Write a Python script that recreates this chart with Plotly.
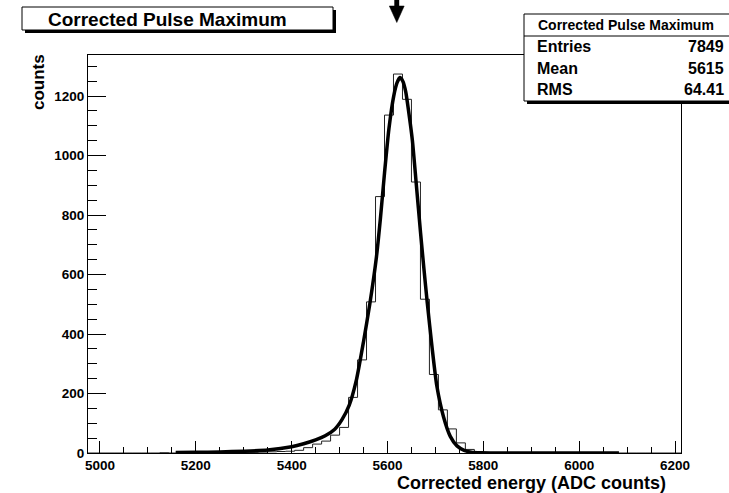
import numpy as np
import plotly.graph_objects as go

# ---------------- data ----------------
bin_lo = 4975.0
bin_width = 18.75
bin_counts = [0, 0, 0, 0, 0, 0, 0, 0, 1, 0,
              0, 1, 0, 1, 1, 0, 2, 1, 2, 3,
              4, 5, 6, 9, 18, 30, 40, 60, 86, 187,
              313, 508, 862, 1136, 1274, 1189, 911, 517, 264, 145,
              81, 34, 12, 5, 1, 0, 0, 0, 0, 0,
              0, 0, 0, 0, 0, 0, 0, 0, 0, 0,
              0, 0, 0, 0, 0, 0]

fit_x = [5158, 5200, 5250, 5300, 5350, 5400, 5425, 5450, 5470, 5490, 5505, 5520,
         5535, 5550, 5563, 5577, 5585, 5594, 5603, 5613, 5620, 5626, 5632, 5638,
         5644, 5652, 5660, 5669, 5676, 5683, 5693, 5703, 5717, 5731, 5745, 5760,
         5775, 5795, 5830, 5900, 6000, 6083]
fit_y = [1.5, 2.3, 3.6, 6, 10, 21, 31, 44, 58, 80, 112, 160,
         245, 375, 500, 660, 785, 945, 1090, 1200, 1245, 1262, 1250, 1215,
         1150, 1050, 905, 740, 620, 505, 355, 225, 121, 56, 24, 9,
         3, 0.8, 0.1, 0, 0, 0]

hist_title = "Corrected Pulse Maximum"
stats_labels = ["Entries", "Mean", "RMS"]
stats_values = ["7849", "5615", "64.41"]
x_title = "Corrected energy (ADC counts)"
y_title = "counts"
x_range = [4975, 6212.5]
y_range = [0, 1338]

# ---------------- layout geometry (pixels) ----------------
W, H = 729, 493
L, R, T, B = 88, 681, 55, 453


def px(x):
    return (x - L) / (R - L)


def py(y):
    return (B - y) / (B - T)


FONT = "Liberation Sans, Arial, Helvetica, sans-serif"

edges = bin_lo + bin_width * np.arange(len(bin_counts) + 1)
hx = [edges[0]] + list(edges[:-1]) + [edges[-1], edges[-1]]
hy = [0] + list(bin_counts) + [bin_counts[-1], 0]

fig = go.Figure()
fig.add_trace(go.Scatter(x=hx, y=hy, mode="lines", line=dict(color="#222222", width=1, shape="hv"),
                         hoverinfo="skip", showlegend=False))
fig.add_trace(go.Scatter(x=fit_x, y=fit_y, mode="lines",
                         line=dict(color="black", width=3.5, shape="spline", smoothing=0.6),
                         showlegend=False))

shapes = []
annotations = []

# title box with shadow
shapes.append(dict(type="rect", xref="paper", yref="paper", x0=px(25), x1=px(336), y0=py(33), y1=py(10),
                   fillcolor="black", line=dict(width=0), layer="above"))
shapes.append(dict(type="rect", xref="paper", yref="paper", x0=px(22), x1=px(333), y0=py(30), y1=py(7),
                   fillcolor="white", line=dict(color="black", width=1), layer="above"))
annotations.append(dict(xref="paper", yref="paper", x=px(46), y=py(19), xanchor="left", yanchor="middle",
                        text=hist_title, showarrow=False,
                        font=dict(family=FONT, size=19, color="black", weight="bold")))

# stats box with shadow
shapes.append(dict(type="rect", xref="paper", yref="paper", x0=px(527), x1=px(740), y0=py(104), y1=py(17),
                   fillcolor="black", line=dict(width=0), layer="above"))
shapes.append(dict(type="rect", xref="paper", yref="paper", x0=px(524), x1=px(737), y0=py(101), y1=py(14),
                   fillcolor="white", line=dict(color="black", width=1), layer="above"))
shapes.append(dict(type="line", xref="paper", yref="paper", x0=px(524), x1=px(737), y0=py(36), y1=py(36),
                   line=dict(color="black", width=1), layer="above"))
annotations.append(dict(xref="paper", yref="paper", x=px(626), y=py(25), xanchor="center", yanchor="middle",
                        text=hist_title, showarrow=False,
                        font=dict(family=FONT, size=14, color="black", weight="bold")))
for lab, val, yy in zip(stats_labels, stats_values, [46.5, 68.5, 89]):
    annotations.append(dict(xref="paper", yref="paper", x=px(535), y=py(yy), xanchor="left", yanchor="middle",
                            text=lab, showarrow=False,
                            font=dict(family=FONT, size=16, color="black", weight="bold")))
    annotations.append(dict(xref="paper", yref="paper", x=px(726), y=py(yy), xanchor="right", yanchor="middle",
                            text=val, showarrow=False,
                            font=dict(family=FONT, size=16, color="black", weight="bold")))

# arrow at the top
shapes.append(dict(type="rect", xref="paper", yref="paper", x0=px(394.3), x1=px(399.2), y0=py(8), y1=py(-2),
                   fillcolor="black", line=dict(width=0), layer="above"))
shapes.append(dict(type="path", xref="paper", yref="paper",
                   path=f"M {px(389.3)} {py(6)} L {px(404.2)} {py(6)} L {px(396.8)} {py(22.5)} Z",
                   fillcolor="black", line=dict(color="black", width=0.5), layer="above"))

# axis titles
annotations.append(dict(xref="paper", yref="paper", x=px(38), y=py(82), xanchor="center", yanchor="middle",
                        text=y_title, textangle=-90, showarrow=False,
                        font=dict(family=FONT, size=17, color="black", weight="bold")))
annotations.append(dict(xref="paper", yref="paper", x=px(668), y=py(483), xanchor="right", yanchor="middle",
                        text=x_title, showarrow=False,
                        font=dict(family=FONT, size=18, color="black", weight="bold")))

fig.update_layout(
    width=W, height=H,
    margin=dict(l=L, r=W - R, t=T, b=H - B, pad=0),
    paper_bgcolor="white", plot_bgcolor="white",
    shapes=shapes, annotations=annotations,
    showlegend=False,
    xaxis=dict(range=x_range, showgrid=False, zeroline=False, showline=True, mirror=True,
               linecolor="black", linewidth=1,
               ticks="inside", ticklen=12, tickcolor="black", tickwidth=1,
               tick0=5000, dtick=200,
               minor=dict(ticks="inside", ticklen=6, dtick=50, tick0=5000, tickcolor="black", showgrid=False),
               tickfont=dict(family=FONT, size=13.5, color="black", weight="bold")),
    yaxis=dict(range=y_range, showgrid=False, zeroline=False, showline=True, mirror=True,
               linecolor="black", linewidth=1,
               ticks="inside", ticklen=18, tickcolor="black", tickwidth=1,
               tick0=0, dtick=200,
               minor=dict(ticks="inside", ticklen=9, dtick=50, tick0=0, tickcolor="black", showgrid=False),
               tickfont=dict(family=FONT, size=13.5, color="black", weight="bold")),
)

fig.write_html("out.html")
